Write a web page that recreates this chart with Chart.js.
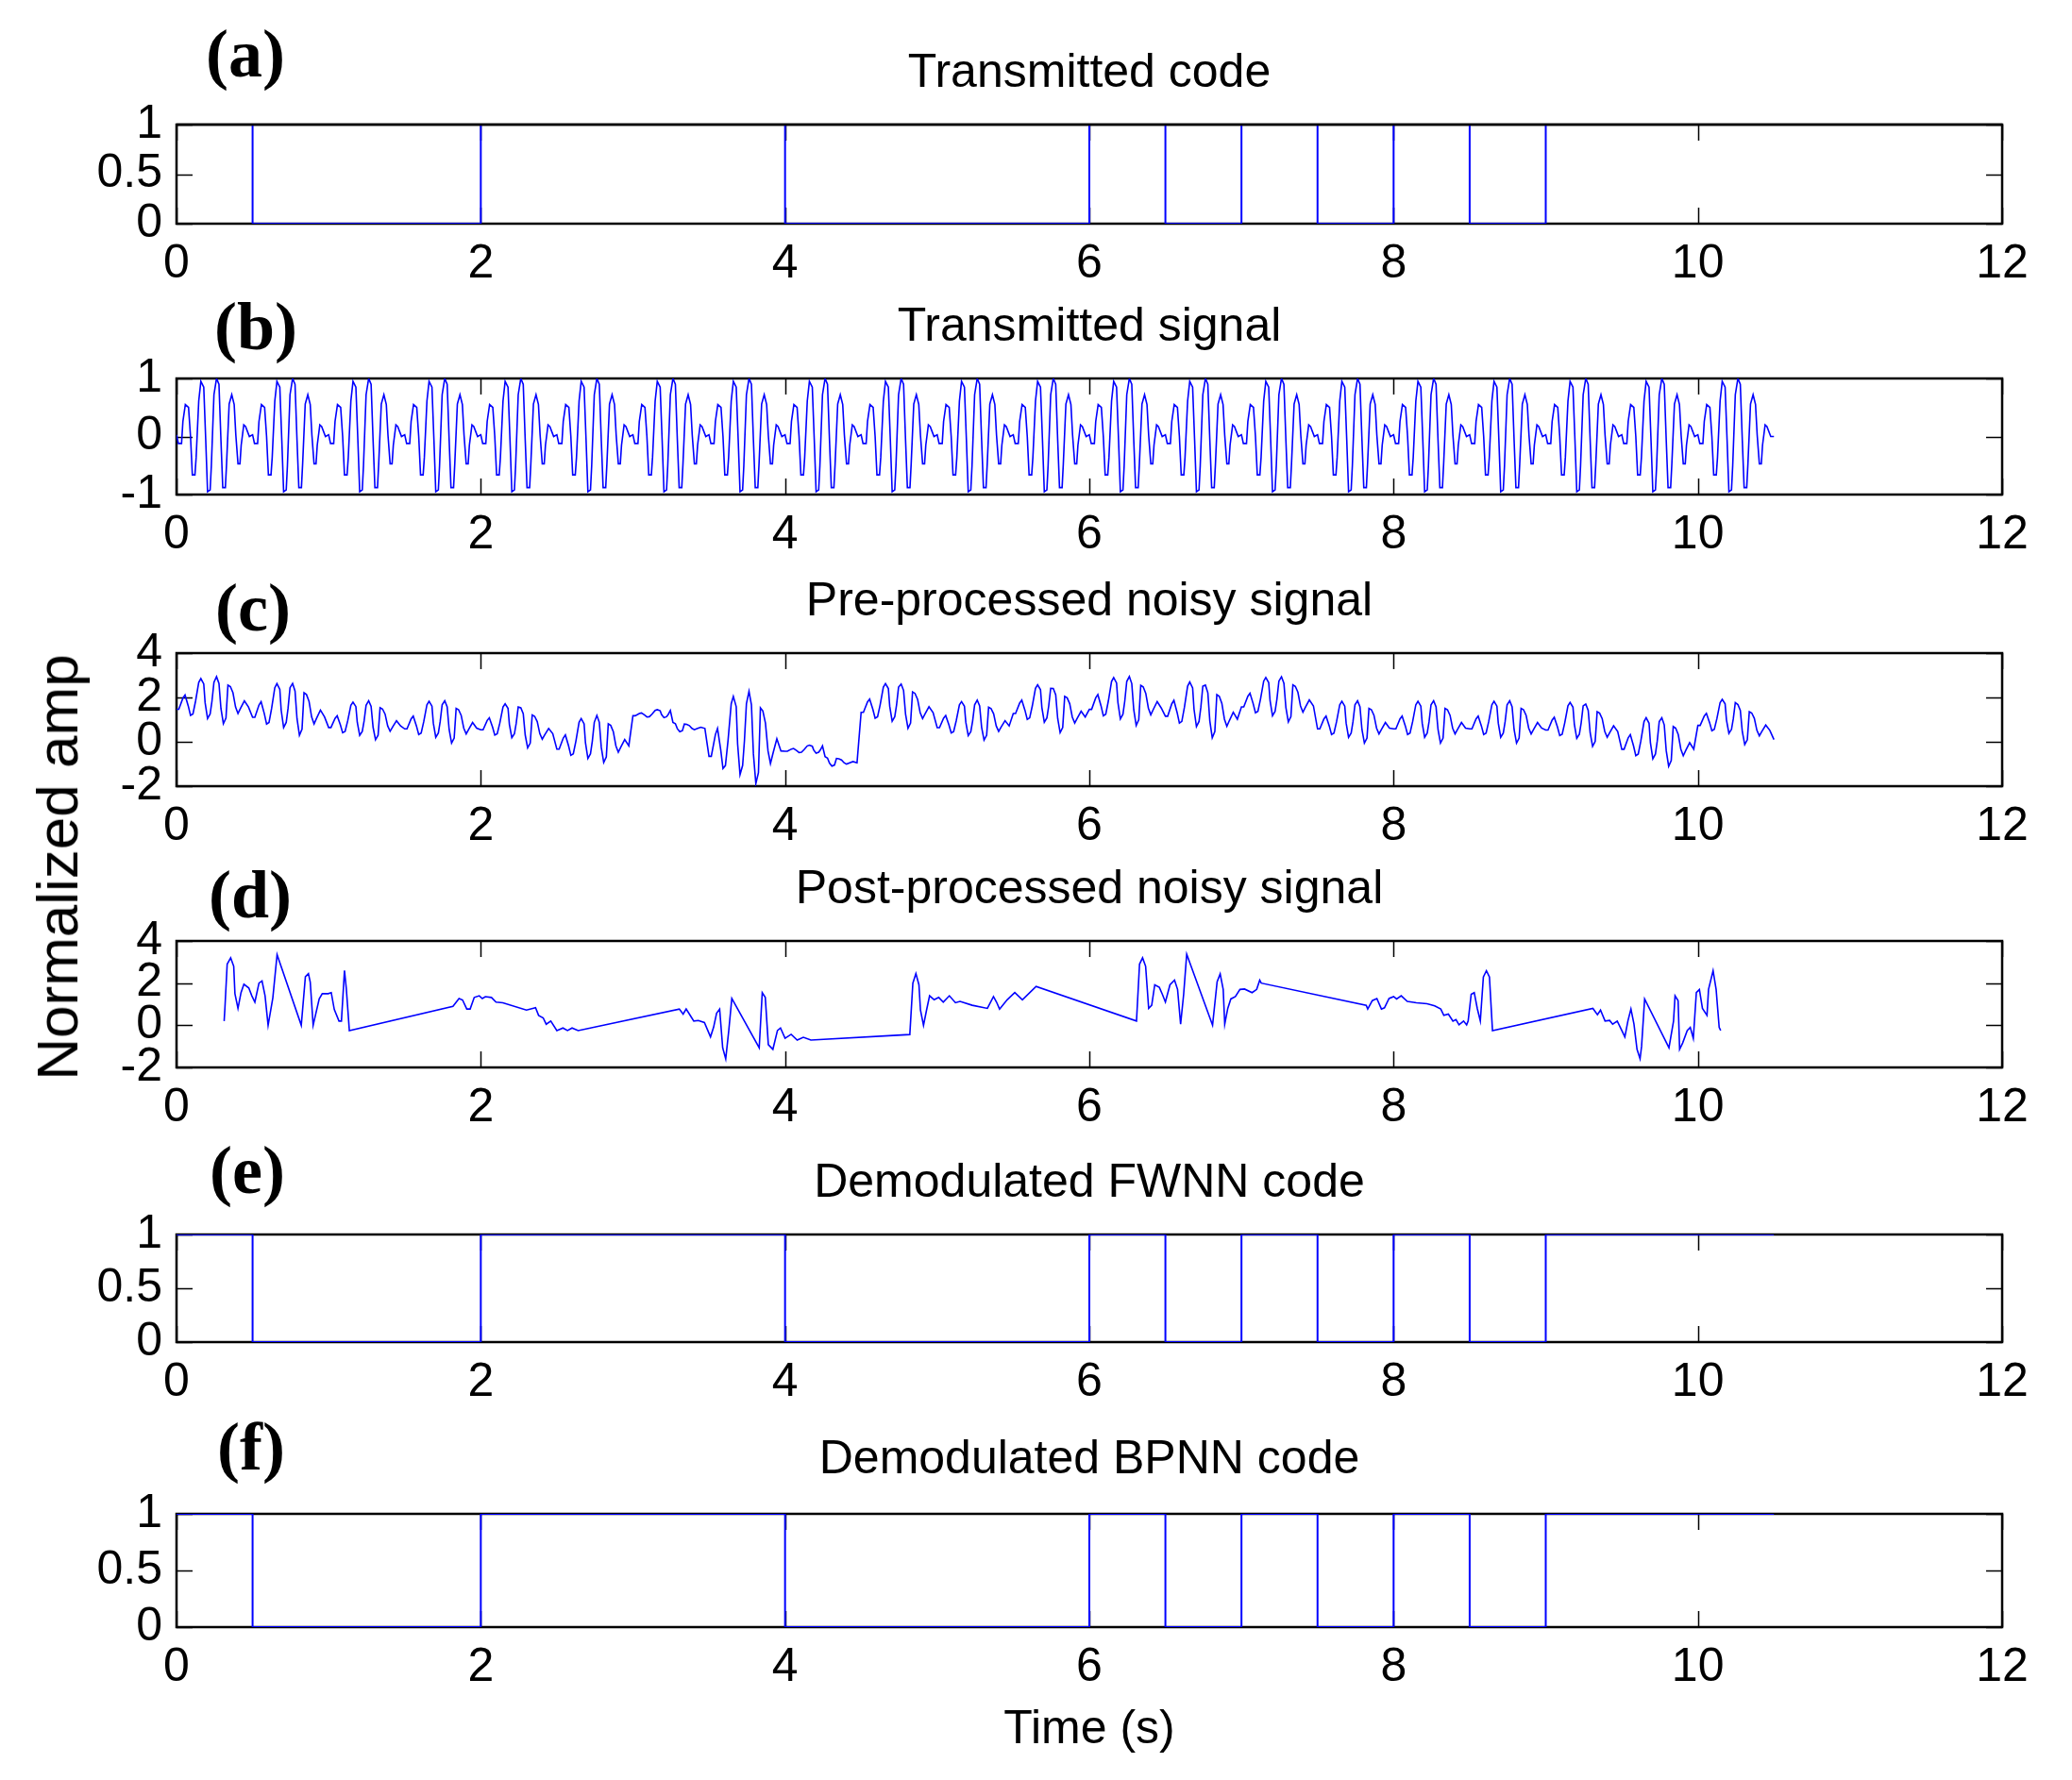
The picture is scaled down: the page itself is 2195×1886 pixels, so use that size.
<!DOCTYPE html>
<html>
<head>
<meta charset="utf-8">
<title>Transmitted / demodulated code</title>
<script src="https://cdn.jsdelivr.net/npm/chart.js@4.4.0/dist/chart.umd.min.js"></script>
<style>
  body { margin: 0; background: #fff; }
  #page { position: relative; width: 2195px; height: 1886px; background: #fff; overflow: hidden;
          font-family: "Liberation Sans", Arial, sans-serif; color: #000; }
  canvas { position: absolute; left: 0; }
  .ttl { position: absolute; left: 187px; width: 1934px; text-align: center; font-size: 50px; line-height: 1; white-space: nowrap; }
  .tag { position: absolute; width: 140px; text-align: center; font-family: "Liberation Serif", "Times New Roman", serif;
         font-weight: bold; font-size: 72px; line-height: 1; }
  #ylab { position: absolute; left: 61px; top: 919px; font-size: 62px; line-height: 1; white-space: nowrap;
          transform: translate(-50%, -50%) rotate(-90deg); }
  #xlab { position: absolute; left: 187px; width: 1934px; top: 1805px; text-align: center; font-size: 50px; line-height: 1; }
</style>
</head>
<body>
<div id="page">
  <canvas id="pa"></canvas>
  <canvas id="pb"></canvas>
  <canvas id="pc"></canvas>
  <canvas id="pd"></canvas>
  <canvas id="pe"></canvas>
  <canvas id="pf"></canvas>

  <div class="ttl" style="top:50px">Transmitted code</div>
  <div class="ttl" style="top:319px">Transmitted signal</div>
  <div class="ttl" style="top:610px">Pre-processed noisy signal</div>
  <div class="ttl" style="top:915px">Post-processed noisy signal</div>
  <div class="ttl" style="top:1226px">Demodulated FWNN code</div>
  <div class="ttl" style="top:1519px">Demodulated BPNN code</div>

  <div class="tag" style="left:190px;top:21px">(a)</div>
  <div class="tag" style="left:201px;top:310px">(b)</div>
  <div class="tag" style="left:198px;top:608px">(c)</div>
  <div class="tag" style="left:195px;top:912px">(d)</div>
  <div class="tag" style="left:192px;top:1204px">(e)</div>
  <div class="tag" style="left:196px;top:1497px">(f)</div>

  <div id="ylab">Normalized amp</div>
  <div id="xlab">Time (s)</div>
</div>

<script>
// --- data ---

// bit sequence, 0.5 s per bit (panels a, e, f)
const codeBits = [1, 0, 0, 0, 1, 1, 1, 1, 0, 0, 0, 0, 1, 0, 1, 0, 1, 0, 1, 1, 1];
const bitLen = 0.5;

// one burst of the transmitted signal (offset in s inside a bit, amplitude)
const burstT = [0, 0.0125, 0.033, 0.042, 0.058, 0.079, 0.092, 0.104, 0.121, 0.129, 0.146, 0.160,
                0.179, 0.192, 0.204, 0.221, 0.229, 0.246, 0.263, 0.279, 0.292, 0.304, 0.321, 0.329,
                0.346, 0.363, 0.379, 0.390, 0.404, 0.417, 0.425, 0.442, 0.454, 0.479];
const burstV = [0.03, -0.12, -0.12, 0.26, 0.55, 0.50, 0, -0.66, -0.66, -0.36, 0.61, 0.95,
                0.85, -0.06, -0.95, -0.92, -0.5, 0.72, 1.0, 0.9, -0.06, -0.88, -0.88, -0.47,
                0.56, 0.72, 0.55, 0.02, -0.47, -0.47, -0.15, 0.2, 0.17, 0];

// pre-processed noisy signal: burst shape around the local level
const noisyT = [0, 0.015, 0.042, 0.056, 0.077, 0.092, 0.108, 0.125, 0.146, 0.160, 0.179, 0.188,
                0.204, 0.221, 0.233, 0.246, 0.263, 0.279, 0.292, 0.308, 0.325, 0.338, 0.354,
                0.371, 0.388, 0.404, 0.421, 0.446, 0.473];
const noisyV = [-0.13, -0.13, 0.37, 0.51, 0.02, -0.41, -0.34, 0.23, 1.08, 1.25, 1.01, 0.16,
                -0.55, -0.34, 0.23, 1.08, 1.39, 1.08, -0.05, -0.73, -0.48, 1.01, 0.94,
                0.66, 0.02, -0.27, -0.03, 0.30, 0.02];
// local level of each quarter second, and burst gain of each bit
const noisyLevel = [1.6, 1.55, 1.25, 1.1, 0.75, 0.7, 0.7, 0.6, 0.65, 0.35, -0.2, -0.2,
                    1.2, 0.6, -0.4, -0.45, -0.4, -0.95, 1.45, 1.3, 0.75, 0.7, 1.4, 1.1,
                    1.6, 1.5, 1.3, 1.0, 1.7, 1.6, 0.7, 0.6, 0.7, 0.6, 0.7, 0.6,
                    0.65, 0.45, -0.2, -0.35, 0.85, 0.5];
const noisyGain = [1.0, 1.1, 0.83, 0.9, 0.85, 1.0, 0.2, 1.96, 0.2, 0.94, 0.85,
                   0.94, 1.04, 1.12, 0.96, 0.9, 0.9, 0.9, 0.9, 1.03, 0.85];

// post-processed noisy signal (time s, amplitude)
const postT = [0.313, 0.318, 0.333, 0.356, 0.376, 0.384, 0.404, 0.424, 0.443, 0.475, 0.495, 0.515, 0.542, 0.562, 0.582, 0.602, 0.633, 0.661,
               0.82, 0.847, 0.867, 0.879, 0.898, 0.938, 0.958, 0.997, 1.017, 1.037, 1.068, 1.084, 1.104, 1.116, 1.136,
               1.817, 1.857, 1.88, 1.908, 1.93, 1.957, 1.99, 2.01, 2.03, 2.07, 2.1, 2.145, 2.3, 2.36, 2.38, 2.41, 2.43, 2.46, 2.5, 2.54, 2.57, 2.6, 2.64,
               3.305, 3.33, 3.35, 3.38, 3.4, 3.43, 3.47, 3.51, 3.53, 3.55, 3.57, 3.59, 3.61, 3.63, 3.65,
               3.83, 3.85, 3.87, 3.89, 3.92, 3.95, 3.97, 4.0, 4.04, 4.08, 4.12, 4.17,
               4.82, 4.84, 4.86, 4.88, 4.89, 4.91, 4.93, 4.95, 4.98, 5.01, 5.04, 5.08, 5.12, 5.15, 5.23, 5.33, 5.37, 5.39, 5.41, 5.46, 5.51, 5.56, 5.65,
               6.31, 6.33, 6.35, 6.37, 6.39, 6.41, 6.43, 6.46, 6.48, 6.5, 6.53, 6.56, 6.58, 6.6, 6.62, 6.64,
               6.81, 6.84, 6.86, 6.88, 6.89, 6.91, 6.93, 6.96, 6.99, 7.02, 7.07, 7.1, 7.12, 7.13,
               7.82, 7.83, 7.86, 7.89, 7.92, 7.94, 7.97, 8.0, 8.02, 8.05, 8.09, 8.15, 8.22, 8.27, 8.31, 8.33, 8.36, 8.39, 8.41, 8.43, 8.46, 8.48, 8.49, 8.51, 8.53, 8.55, 8.57, 8.59, 8.61, 8.63, 8.65,
               9.31, 9.34, 9.36, 9.39, 9.42, 9.44, 9.47, 9.5, 9.52, 9.54, 9.56, 9.58, 9.6, 9.62, 9.63, 9.65,
               9.81, 9.84, 9.85, 9.87, 9.88, 9.9, 9.93, 9.95, 9.97, 9.99, 10.01, 10.03, 10.06, 10.07, 10.1, 10.12, 10.14, 10.15];
const postV = [0.2, 0.8, 2.9, 3.2, 2.8, 1.5, 0.8, 1.55, 1.95, 1.77, 1.4, 1.1, 2.0, 2.1, 1.4, 0.0, 1.3, 3.35,
               0.0, 2.3, 2.45, 2.05, 0.0, 1.25, 1.5, 1.5, 1.55, 0.75, 0.2, 0.2, 2.6, 1.75, -0.25,
               0.9, 1.27, 1.2, 0.77, 0.77, 1.32, 1.4, 1.27, 1.36, 1.32, 1.1, 1.07, 0.72, 0.83, 0.47, 0.35, 0.05, 0.2, -0.25, -0.13, -0.25, -0.13, -0.25,
               0.77, 0.53, 0.77, 0.43, 0.2, 0.23, 0.13, -0.55, -0.1, 0.57, 0.77, -1.07, -1.6, -0.25, 1.27,
               -1.07, 1.55, 1.32, -0.92, -1.14, -0.25, -0.13, -0.62, -0.43, -0.7, -0.57, -0.7,
               -0.44, 2.0, 2.45, 1.92, 0.72, 0.0, 0.72, 1.4, 1.21, 1.32, 1.1, 1.4, 1.07, 1.13, 0.95, 0.8, 1.36, 1.1, 0.77, 1.21, 1.55, 1.21, 1.84,
               0.2, 2.9, 3.2, 2.8, 0.8, 0.95, 1.92, 1.8, 1.47, 1.1, 1.92, 2.14, 1.7, 0.05, 1.47, 3.37,
               0.0, 2.07, 2.44, 1.7, 0.05, 0.8, 1.25, 1.36, 1.7, 1.72, 1.55, 1.7, 2.14, 2.0,
               0.95, 0.77, 1.17, 1.27, 0.77, 0.83, 1.27, 1.36, 1.25, 1.4, 1.13, 1.07, 1.02, 0.92, 0.77, 0.47, 0.53, 0.2, 0.27, 0.02, 0.2, 0.02, 0.2, 1.47, 1.55, 0.8, 0.2, 2.29, 2.59, 2.29, -0.25,
               0.8, 0.5, 0.72, 0.2, 0.23, 0.05, 0.2, -0.25, -0.55, 0.2, 0.77, 0.05, -1.14, -1.59, -1.0, 1.25,
               -1.07, 0.2, 1.4, 1.17, -1.14, -0.84, -0.25, -0.1, -0.62, 1.55, 1.7, 0.8, 0.47, 1.7, 2.59, 1.7, -0.1, -0.25];

const xTicks = { min: 0, max: 12, step: 2 };

// --- build point lists ---
function codePoints() {
    const pts = [];
    codeBits.forEach((b, i) => {
        pts.push({ x: i * bitLen, y: b });
        pts.push({ x: (i + 1) * bitLen, y: b });
    });
    return pts;
}

function signalPoints() {
    const pts = [];
    codeBits.forEach((b, i) => {
        burstT.forEach((t, k) => pts.push({ x: i * bitLen + t, y: burstV[k] }));
    });
    pts.push({ x: codeBits.length * bitLen, y: 0 });
    return pts;
}

function noisyPoints() {
    const pts = [];
    codeBits.forEach((b, i) => {
        noisyT.forEach((t, k) => {
            const lvl = noisyLevel[2 * i + (t >= bitLen / 2 ? 1 : 0)];
            pts.push({ x: i * bitLen + t, y: lvl + noisyGain[i] * noisyV[k] });
        });
    });
    pts.push({ x: codeBits.length * bitLen, y: 0.1 });
    return pts;
}

function postPoints() {
    return postT.map((t, i) => ({ x: t, y: postV[i] }));
}

// --- frame and inward tick marks (MATLAB look) ---
const frameTicks = {
    id: 'frameTicks',
    beforeDatasetsDraw(chart, args, opts) {
        const { ctx, chartArea: a, scales } = chart;
        const L = 17;
        ctx.save();
        ctx.strokeStyle = '#000';
        ctx.lineWidth = 1.5;
        ctx.beginPath();
        scales.x.ticks.forEach(t => {
            const px = Math.round(scales.x.getPixelForValue(t.value)) + 0.5;
            ctx.moveTo(px, a.bottom); ctx.lineTo(px, a.bottom - L);
            ctx.moveTo(px, a.top); ctx.lineTo(px, a.top + L);
        });
        scales.y.ticks.forEach(t => {
            const py = Math.round(scales.y.getPixelForValue(t.value)) + 0.5;
            ctx.moveTo(a.left, py); ctx.lineTo(a.left + L, py);
            ctx.moveTo(a.right, py); ctx.lineTo(a.right - L, py);
        });
        ctx.stroke();
        ctx.lineWidth = 2.5;
        ctx.strokeRect(a.left, a.top, a.right - a.left, a.bottom - a.top);
        ctx.restore();
    },
    afterDatasetsDraw(chart, args, opts) {
        if (!opts.topOver) return;
        const { ctx, chartArea: a } = chart;
        ctx.save();
        ctx.strokeStyle = '#000';
        ctx.lineWidth = 2.5;
        ctx.beginPath();
        ctx.moveTo(a.left, a.top); ctx.lineTo(a.right, a.top);
        ctx.stroke();
        ctx.restore();
    }
};

const tickFont = { family: '"Liberation Sans", Arial, sans-serif', size: 50 };
const PAD_TOP = 40, X_AXIS_H = 70, Y_AXIS_W = 187, PAD_RIGHT = 74;

function makePanel(id, axTop, axBottom, points, yMin, yMax, yStep, topOver, lw) {
    const cv = document.getElementById(id);
    const h = PAD_TOP + (axBottom - axTop) + X_AXIS_H;
    cv.width = 2195; cv.height = h;
    cv.style.width = '2195px'; cv.style.height = h + 'px';
    cv.style.top = (axTop - PAD_TOP) + 'px';

    return new Chart(cv, {
        type: 'line',
        data: {
            datasets: [{
                data: points,
                borderColor: '#0000ff',
                borderWidth: lw,
                pointRadius: 0,
                tension: 0,
                fill: false
            }]
        },
        options: {
            responsive: false,
            animation: false,
            devicePixelRatio: 1,
            layout: { padding: { left: 0, right: PAD_RIGHT, top: PAD_TOP, bottom: 0 } },
            plugins: {
                legend: { display: false },
                tooltip: { enabled: false },
                frameTicks: { topOver: topOver }
            },
            scales: {
                x: {
                    type: 'linear',
                    min: xTicks.min, max: xTicks.max,
                    grid: { display: false },
                    border: { display: false },
                    ticks: {
                        stepSize: xTicks.step, autoSkip: false, maxRotation: 0,
                        padding: 5, color: '#000', font: tickFont,
                        callback: v => String(v)
                    },
                    afterFit: s => { s.height = X_AXIS_H; }
                },
                y: {
                    type: 'linear',
                    min: yMin, max: yMax,
                    grid: { display: false },
                    border: { display: false },
                    ticks: {
                        stepSize: yStep, autoSkip: false,
                        padding: 7, color: '#000', font: tickFont,
                        callback: v => String(v)
                    },
                    afterFit: s => { s.width = Y_AXIS_W; }
                }
            }
        },
        plugins: [frameTicks]
    });
}

makePanel('pa', 132, 237, codePoints(), 0, 1, 0.5, true, 2);
makePanel('pb', 401, 524, signalPoints(), -1, 1, 1, false, 1.6);
makePanel('pc', 692, 833, noisyPoints(), -2, 4, 2, false, 1.6);
makePanel('pd', 997, 1131, postPoints(), -2, 4, 2, false, 1.6);
makePanel('pe', 1308, 1422, codePoints(), 0, 1, 0.5, false, 2);
makePanel('pf', 1604, 1724, codePoints(), 0, 1, 0.5, false, 2);
</script>
</body>
</html>
